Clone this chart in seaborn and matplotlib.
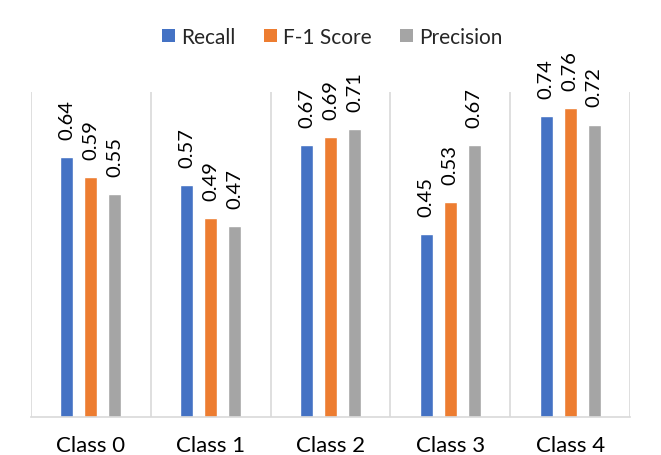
import matplotlib
matplotlib.use("Agg")
import matplotlib.pyplot as plt
from matplotlib.patches import Patch
import seaborn as sns
import pandas as pd

classes = ["Class 0", "Class 1", "Class 2", "Class 3", "Class 4"]
metrics = ["Recall", "F-1 Score", "Precision"]
recall = [0.64, 0.57, 0.67, 0.45, 0.74]
f1_score = [0.59, 0.49, 0.69, 0.53, 0.76]
precision = [0.55, 0.47, 0.71, 0.67, 0.72]
colors = ["#4472C4", "#ED7D31", "#A5A5A5"]

rows = []
for name, vals in zip(metrics, [recall, f1_score, precision]):
    for c, v in zip(classes, vals):
        rows.append({"Class": c, "Metric": name, "Value": v})
df = pd.DataFrame(rows)

sns.set_style("white")
plt.rcParams["font.family"] = ["Lato", "DejaVu Sans"]

fig = plt.figure(figsize=(6.61, 4.56), dpi=100)
ax = fig.add_axes([31 / 661, 38 / 456, 599 / 661, 325 / 456])

sns.barplot(data=df, x="Class", y="Value", hue="Metric", order=classes,
            hue_order=metrics, palette=colors, width=0.6, gap=0.46,
            saturation=1, ax=ax, legend=False)

for cont in ax.containers:
    ax.bar_label(cont, labels=[f"{v:.2f}" for v in cont.datavalues],
                 rotation=90, padding=13, fontsize=14.5, color="#000000")

ax.set_xlim(-0.5, 4.5)
ax.set_ylim(0, 0.8)
ax.vlines([i - 0.5 for i in range(len(classes) + 1)], 0, 0.8,
          colors="#D9D9D9", linewidth=1.2, zorder=0)
for s in ["top", "left", "right"]:
    ax.spines[s].set_visible(False)
ax.spines["bottom"].set_color("#D9D9D9")
ax.spines["bottom"].set_linewidth(1.2)
ax.set_yticks([])
ax.set_xlabel("")
ax.set_ylabel("")
ax.tick_params(axis="x", length=0, pad=13, labelsize=16, colors="#000000")

handles = [Patch(facecolor=c, edgecolor="none") for c in colors]
fig.legend(handles, metrics, loc="center", bbox_to_anchor=(0.503, 0.917),
           ncol=3, frameon=False, fontsize=15, handlelength=0.62,
           handleheight=0.62, handletextpad=0.3, columnspacing=1.35)

fig.savefig("out.png", dpi=100)
